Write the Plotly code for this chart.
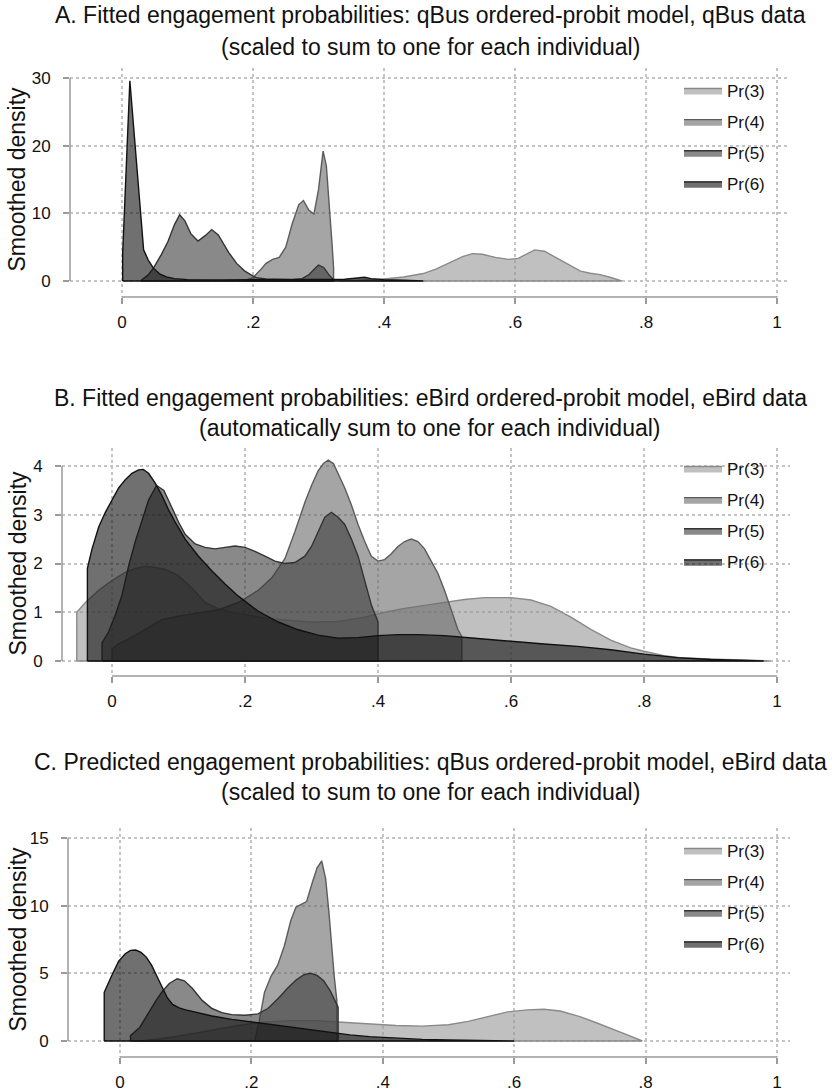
import plotly.graph_objects as go

W, H = 832, 1091
FONT = "Arial, Liberation Sans, sans-serif"

SERIES = ["Pr(3)", "Pr(4)", "Pr(5)", "Pr(6)"]
FILL = ["rgba(150,150,150,0.6)", "rgba(105,105,105,0.6)",
        "rgba(58,58,58,0.6)", "rgba(17,17,17,0.6)"]
LINE = ["#8a8a8a", "#5c5c5c", "#333333", "#111111"]

X_TICKS = [0, 0.2, 0.4, 0.6, 0.8, 1]
X_TICK_TEXT = ["0", ".2", ".4", ".6", ".8", "1"]

# ---------------- Panel A ----------------
A_TITLE = ["A. Fitted engagement probabilities: qBus ordered-probit model, qBus data",
           "(scaled to sum to one for each individual)"]
A_YTICKS = [0, 10, 20, 30]
a_pr3_x = [0.33, 0.36, 0.40, 0.43, 0.46, 0.48, 0.50, 0.52, 0.535, 0.55, 0.57, 0.59, 0.605,
           0.62, 0.63, 0.645, 0.66, 0.675, 0.69, 0.70, 0.715, 0.73, 0.745, 0.763]
a_pr3_y = [0, 0.1, 0.3, 0.6, 1.1, 1.8, 2.7, 3.6, 4.05, 3.95, 3.5, 3.2, 3.35,
           4.1, 4.6, 4.4, 3.6, 2.7, 1.9, 1.45, 1.15, 0.95, 0.55, 0]
a_pr4_x = [0.185, 0.20, 0.21, 0.22, 0.23, 0.24, 0.25, 0.26, 0.27, 0.277, 0.285, 0.293,
           0.30, 0.307, 0.312, 0.317, 0.321, 0.323, 0.323]
a_pr4_y = [0, 0.5, 1.5, 2.6, 3.2, 3.5, 5.0, 8.5, 11.3, 11.9, 10.5, 9.9,
           13.5, 19.2, 17.0, 11.0, 5.0, 2.0, 0]
a_pr5_x = [0.028, 0.04, 0.048, 0.06, 0.07, 0.08, 0.088, 0.096, 0.105, 0.116, 0.127, 0.137,
           0.147, 0.163, 0.175, 0.187, 0.197, 0.205, 0.22, 0.24, 0.26, 0.275, 0.285, 0.293,
           0.30, 0.308, 0.316, 0.322, 0.322]
a_pr5_y = [0, 0.9, 1.9, 3.9, 5.8, 8.3, 9.8, 8.9, 7.0, 5.9, 6.7, 7.6,
           6.8, 4.2, 2.6, 1.5, 0.9, 0.5, 0.3, 0.2, 0.2, 0.35, 0.9, 1.7,
           2.35, 2.0, 0.9, 0.3, 0]
a_pr6_x = [0.001, 0.001, 0.012, 0.022, 0.033, 0.04, 0.048, 0.058, 0.068, 0.08, 0.10, 0.15,
           0.20, 0.25, 0.30, 0.34, 0.36, 0.37, 0.38, 0.40, 0.43, 0.46]
a_pr6_y = [0, 4.1, 29.6, 17.9, 4.6, 3.1, 1.9, 1.0, 0.6, 0.35, 0.2, 0.15,
           0.15, 0.15, 0.2, 0.25, 0.45, 0.55, 0.35, 0.2, 0.1, 0]

# ---------------- Panel B ----------------
B_TITLE = ["B. Fitted engagement probabilities: eBird ordered-probit model, eBird data",
           "(automatically sum to one for each individual)"]
B_YTICKS = [0, 1, 2, 3, 4]
b_pr3_x = [-0.053, -0.053, -0.04, -0.02, 0.0, 0.02, 0.035, 0.05, 0.065, 0.08, 0.10, 0.12,
           0.14, 0.16, 0.18, 0.20, 0.23, 0.26, 0.30, 0.34, 0.38, 0.41, 0.44, 0.47, 0.50,
           0.53, 0.56, 0.60, 0.63, 0.66, 0.69, 0.72, 0.75, 0.78, 0.80, 0.83, 0.86, 0.89,
           0.92, 0.95, 0.99]
b_pr3_y = [0, 1.0, 1.2, 1.45, 1.65, 1.82, 1.9, 1.94, 1.92, 1.88, 1.75, 1.5,
           1.2, 1.07, 1.0, 0.95, 0.88, 0.84, 0.8, 0.81, 0.9, 1.0, 1.08, 1.14, 1.2,
           1.26, 1.3, 1.3, 1.25, 1.12, 0.9, 0.65, 0.43, 0.27, 0.2, 0.11, 0.06, 0.04,
           0.03, 0.02, 0]
b_pr4_x = [0.0, 0.0, 0.01, 0.025, 0.05, 0.075, 0.10, 0.13, 0.16, 0.19, 0.22, 0.24, 0.26,
           0.275, 0.29, 0.30, 0.31, 0.318, 0.325, 0.333, 0.342, 0.35, 0.36, 0.37, 0.38,
           0.39, 0.40, 0.41, 0.42, 0.43, 0.44, 0.45, 0.46, 0.47, 0.48, 0.49, 0.50, 0.51,
           0.52, 0.526, 0.526]
b_pr4_y = [0, 0.25, 0.35, 0.45, 0.65, 0.85, 0.92, 0.98, 1.05, 1.2, 1.45, 1.7, 2.1,
           2.65, 3.25, 3.6, 3.9, 4.05, 4.12, 4.05, 3.8, 3.55, 3.2, 2.8, 2.45,
           2.15, 2.05, 2.08, 2.2, 2.35, 2.45, 2.5, 2.45, 2.3, 2.05, 1.8, 1.45, 1.05,
           0.65, 0.5, 0]
b_pr5_x = [-0.015, -0.015, -0.005, 0.005, 0.015, 0.025, 0.035, 0.045, 0.055, 0.067, 0.078,
           0.09, 0.10, 0.11, 0.125, 0.14, 0.155, 0.17, 0.185, 0.20, 0.215, 0.23, 0.245,
           0.26, 0.275, 0.29, 0.30, 0.31, 0.32, 0.33, 0.34, 0.35, 0.36, 0.37, 0.38, 0.39,
           0.40, 0.40]
b_pr5_y = [0, 0.37, 0.6, 0.95, 1.35, 1.95, 2.45, 2.9, 3.3, 3.6, 3.5,
           3.15, 2.85, 2.6, 2.4, 2.33, 2.3, 2.33, 2.36, 2.33, 2.25, 2.15, 2.05,
           2.0, 2.02, 2.15, 2.35, 2.65, 2.95, 3.05, 2.95, 2.8, 2.5, 2.15, 1.65, 1.15,
           0.8, 0]
b_pr6_x = [-0.037, -0.037, -0.03, -0.02, -0.01, 0.0, 0.01, 0.02, 0.03, 0.04, 0.047, 0.055,
           0.065, 0.075, 0.085, 0.095, 0.11, 0.13, 0.15, 0.17, 0.19, 0.22, 0.25, 0.28,
           0.31, 0.34, 0.37, 0.40, 0.43, 0.46, 0.50, 0.55, 0.60, 0.65, 0.70, 0.75, 0.80,
           0.85, 0.90, 0.95, 0.98]
b_pr6_y = [0, 1.9, 2.3, 2.75, 3.05, 3.3, 3.55, 3.72, 3.85, 3.92, 3.93, 3.85,
           3.65, 3.4, 3.1, 2.85, 2.5, 2.15, 1.85, 1.58, 1.33, 1.02, 0.8, 0.64,
           0.53, 0.47, 0.48, 0.52, 0.54, 0.54, 0.52, 0.46, 0.4, 0.35, 0.3, 0.23, 0.14,
           0.07, 0.03, 0.01, 0]

# ---------------- Panel C ----------------
C_TITLE = ["C. Predicted engagement probabilities: qBus ordered-probit model, eBird data",
           "(scaled to sum to one for each individual)"]
C_YTICKS = [0, 5, 10, 15]
c_pr3_x = [0.03, 0.06, 0.10, 0.14, 0.18, 0.22, 0.26, 0.30, 0.34, 0.38, 0.42, 0.46, 0.50,
           0.53, 0.56, 0.59, 0.62, 0.645, 0.67, 0.70, 0.725, 0.75, 0.775, 0.795]
c_pr3_y = [0, 0.15, 0.45, 0.8, 1.15, 1.4, 1.5, 1.5, 1.38, 1.25, 1.15, 1.1, 1.2,
           1.45, 1.8, 2.15, 2.3, 2.35, 2.22, 1.8, 1.35, 0.9, 0.4, 0]
c_pr4_x = [0.205, 0.212, 0.22, 0.23, 0.24, 0.25, 0.26, 0.268, 0.276, 0.284, 0.292, 0.30,
           0.307, 0.313, 0.318, 0.322, 0.326, 0.33, 0.33]
c_pr4_y = [0, 1.5, 3.6, 4.8, 5.6, 7.0, 8.9, 9.9, 10.1, 10.3, 11.6, 12.8,
           13.3, 12.0, 9.5, 7.0, 4.8, 3.0, 0]
c_pr5_x = [0.016, 0.016, 0.03, 0.042, 0.055, 0.065, 0.075, 0.087, 0.098, 0.11, 0.125,
           0.14, 0.155, 0.17, 0.19, 0.21, 0.225, 0.24, 0.255, 0.268, 0.28, 0.29, 0.30,
           0.31, 0.32, 0.327, 0.332, 0.332]
c_pr5_y = [0, 0.4, 1.0, 2.0, 3.0, 3.7, 4.25, 4.6, 4.45, 3.9, 3.0,
           2.4, 2.1, 1.95, 1.9, 2.0, 2.4, 3.1, 3.9, 4.5, 4.9, 5.0, 4.85,
           4.45, 3.7, 3.0, 2.5, 0]
c_pr6_x = [-0.024, -0.024, -0.012, -0.002, 0.008, 0.016, 0.024, 0.032, 0.04, 0.048, 0.056,
           0.064, 0.072, 0.08, 0.09, 0.10, 0.12, 0.14, 0.17, 0.20, 0.23, 0.26, 0.29,
           0.32, 0.35, 0.38, 0.42, 0.46, 0.50, 0.55, 0.60]
c_pr6_y = [0, 3.6, 4.9, 5.9, 6.45, 6.7, 6.72, 6.55, 6.2, 5.6, 4.8,
           3.95, 3.2, 2.7, 2.45, 2.3, 2.05, 1.85, 1.6, 1.4, 1.2, 1.0, 0.8,
           0.6, 0.45, 0.32, 0.2, 0.12, 0.07, 0.03, 0]

PANELS = [
    dict(title=A_TITLE, yticks=A_YTICKS,
         data=[(a_pr3_x, a_pr3_y), (a_pr4_x, a_pr4_y), (a_pr5_x, a_pr5_y), (a_pr6_x, a_pr6_y)],
         px_left=70, px_right=787, px_top=68, px_bottom=297,
         x0px=122, x1px=777, y0px=281, ytoppx=78,
         title_y=(15, 47), legend_top=73),
    dict(title=B_TITLE, yticks=B_YTICKS,
         data=[(b_pr3_x, b_pr3_y), (b_pr4_x, b_pr4_y), (b_pr5_x, b_pr5_y), (b_pr6_x, b_pr6_y)],
         px_left=62, px_right=790, px_top=448, px_bottom=676,
         x0px=112, x1px=777, y0px=661, ytoppx=466,
         title_y=(398, 428), legend_top=451),
    dict(title=C_TITLE, yticks=C_YTICKS,
         data=[(c_pr3_x, c_pr3_y), (c_pr4_x, c_pr4_y), (c_pr5_x, c_pr5_y), (c_pr6_x, c_pr6_y)],
         px_left=68, px_right=790, px_top=828, px_bottom=1057,
         x0px=120, x1px=777, y0px=1041, ytoppx=838,
         title_y=(762, 792), legend_top=833),
]

fig = go.Figure()
annotations = []
shapes = []
layout = dict(width=W, height=H, margin=dict(l=0, r=0, t=0, b=0),
              paper_bgcolor="white", plot_bgcolor="white",
              font=dict(family=FONT, color="#111111"), showlegend=True)

AXIS_COL = "#9a9a9a"
GRID_COL = "#c4c4c4"

for i, p in enumerate(PANELS, start=1):
    sfx = "" if i == 1 else str(i)
    xa, ya = "x" + sfx, "y" + sfx
    leg = "legend" + sfx
    ymax = p["yticks"][-1]
    xscale = (p["x1px"] - p["x0px"])
    yscale = (p["y0px"] - p["ytoppx"]) / ymax
    xr = [(p["px_left"] - p["x0px"]) / xscale, (p["px_right"] - p["x0px"]) / xscale]
    yr = [(p["y0px"] - p["px_bottom"]) / yscale, (p["y0px"] - p["px_top"]) / yscale]

    for k, (xs, ys) in enumerate(p["data"]):
        fig.add_trace(go.Scatter(
            x=list(xs) + [xs[0]], y=list(ys) + [ys[0]],
            mode="lines", fill="toself", fillcolor=FILL[k],
            line=dict(color=LINE[k], width=1.4),
            name=SERIES[k], legendgroup=f"{i}-{k}", legend=leg,
            xaxis=xa, yaxis=ya, hoverinfo="skip"))

    layout["xaxis" + sfx] = dict(
        domain=[p["px_left"] / W, p["px_right"] / W], anchor=ya, range=xr,
        tickvals=X_TICKS, ticktext=X_TICK_TEXT, ticks="outside", ticklen=6,
        tickwidth=1.5, tickcolor=AXIS_COL, showline=False, zeroline=False,
        showgrid=True, gridcolor=GRID_COL, gridwidth=1.5, griddash="dot",
        tickfont=dict(size=17, color="#111111", family=FONT), ticklabelstandoff=4,
        fixedrange=True)
    layout["yaxis" + sfx] = dict(
        domain=[1 - p["px_bottom"] / H, 1 - p["px_top"] / H], anchor=xa, range=yr,
        tickvals=p["yticks"], ticks="outside", ticklen=6, tickwidth=1.5,
        tickcolor=AXIS_COL, showline=False, zeroline=False,
        showgrid=True, gridcolor=GRID_COL, gridwidth=1.5, griddash="dot",
        tickfont=dict(size=17, color="#111111", family=FONT), ticklabelstandoff=9,
        fixedrange=True)

    # Stata-style axis lines spanning only the tick range
    shapes.append(dict(type="line", xref=xa, yref=ya + " domain", x0=0, x1=1, y0=0, y1=0,
                       line=dict(color=AXIS_COL, width=1.5)))
    shapes.append(dict(type="line", xref=xa + " domain", yref=ya, x0=0, x1=0, y0=0, y1=ymax,
                       line=dict(color=AXIS_COL, width=1.5)))

    for j, t in enumerate(p["title"]):
        annotations.append(dict(text=t, xref="paper", yref="paper", x=430 / W,
                                y=1 - p["title_y"][j] / H, xanchor="center", yanchor="middle",
                                showarrow=False, font=dict(size=23, family=FONT, color="#111111")))
    annotations.append(dict(text="Smoothed density", xref="paper", yref="paper",
                            x=17 / W, y=1 - (p["y0px"] + p["ytoppx"]) / 2 / H,
                            xanchor="center", yanchor="middle", textangle=-90,
                            showarrow=False, font=dict(size=23, family=FONT, color="#111111")))

    layout[leg] = dict(x=679 / W, y=1 - p["legend_top"] / H, xanchor="left", yanchor="top",
                       bgcolor="rgba(0,0,0,0)", font=dict(size=17, family=FONT, color="#111111"),
                       tracegroupgap=6, itemwidth=38, traceorder="grouped")

layout["annotations"] = annotations
layout["shapes"] = shapes
fig.update_layout(**layout)
fig.write_html("out.html")
